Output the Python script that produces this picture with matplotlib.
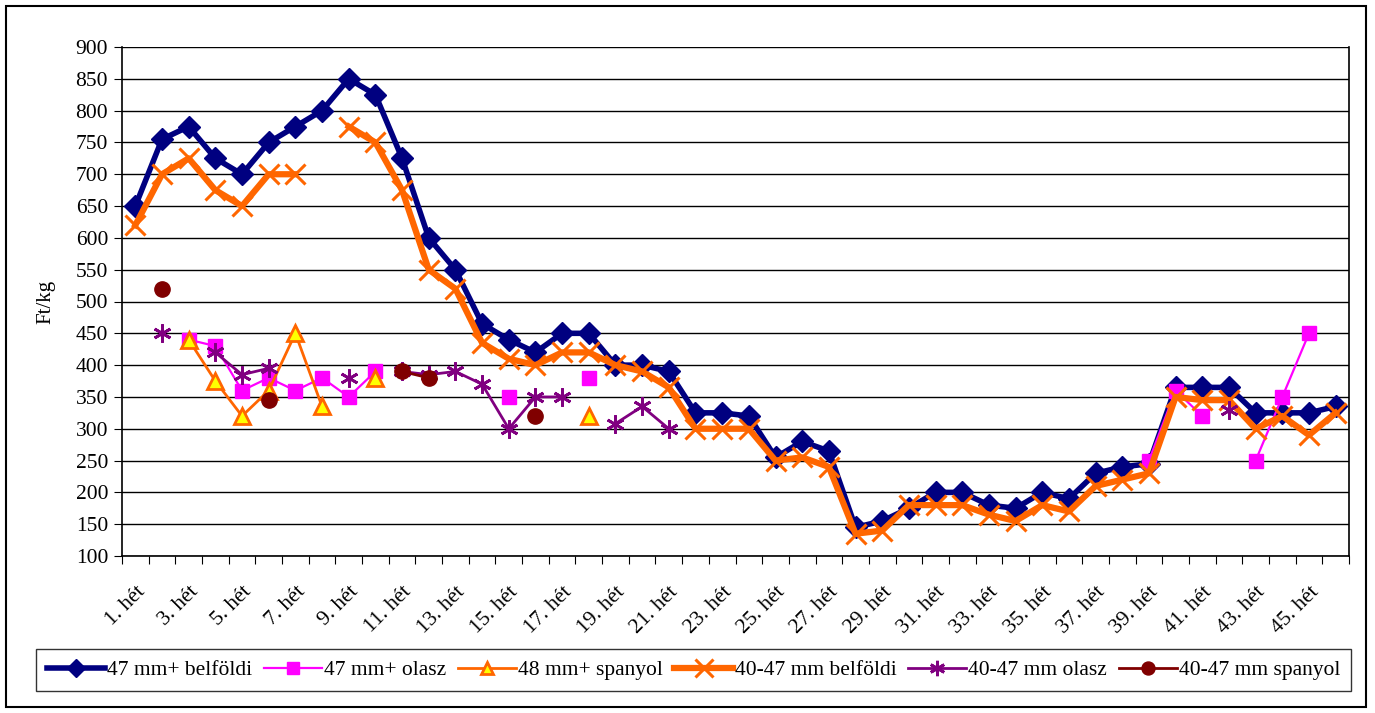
import numpy as np
import matplotlib
matplotlib.use("Agg")
import matplotlib.pyplot as plt
import matplotlib.transforms as mtransforms
from matplotlib.patches import Rectangle

nan = np.nan

weeks = [f"{i}. hét" for i in range(1, 47)]

# 47 mm+ belföldi
belf_47 = [650, 755, 775, 725, 700, 750, 775, 800, 850, 825,
           725, 600, 550, 465, 440, 420, 450, 450, 400, 400,
           390, 325, 325, 320, 255, 280, 265, 145, 155, 175,
           200, 200, 180, 175, 200, 190, 230, 240, 245, 365,
           365, 365, 325, 325, 325, 335]

# 47 mm+ olasz
olasz_47 = [nan, nan, 440, 430, 360, 380, 360, 380, 350, 390,
            nan, nan, nan, nan, 350, nan, nan, 380, nan, nan,
            nan, nan, nan, nan, nan, nan, nan, nan, nan, nan,
            nan, nan, nan, nan, nan, nan, nan, nan, 250, 360,
            320, nan, 250, 350, 450, nan]

# 48 mm+ spanyol
spany_48 = [nan, nan, 440, 375, 320, 360, 450, 335, nan, 380,
            nan, nan, nan, nan, nan, nan, nan, 320, nan, nan,
            nan, nan, nan, nan, nan, nan, nan, nan, nan, nan,
            nan, nan, nan, nan, nan, nan, nan, nan, nan, nan,
            nan, nan, nan, nan, nan, nan]

# 40-47 mm belföldi
belf_40 = [620, 700, 725, 675, 650, 700, 700, nan, 775, 750,
           675, 550, 520, 435, 410, 400, 420, 420, 400, 390,
           365, 300, 300, 300, 250, 255, 240, 135, 140, 180,
           180, 180, 165, 155, 180, 170, 210, 220, 230, 350,
           345, 345, 300, 320, 290, 325]

# 40-47 mm olasz
olasz_40 = [nan, 450, nan, 420, 385, 395, nan, nan, 380, nan,
            390, 385, 390, 370, 300, 350, 350, nan, 308, 335,
            300, nan, nan, nan, nan, nan, nan, nan, nan, nan,
            nan, nan, nan, nan, nan, nan, nan, nan, nan, nan,
            nan, 330, nan, nan, nan, nan]

# 40-47 mm spanyol
spany_40 = [nan, 520, nan, nan, nan, 345, nan, nan, nan, nan,
            390, 380, nan, nan, nan, 320, nan, nan, nan, nan,
            nan, nan, nan, nan, nan, nan, nan, nan, nan, nan,
            nan, nan, nan, nan, nan, nan, nan, nan, nan, nan,
            nan, nan, nan, nan, nan, nan]

plt.rcParams["font.family"] = ["Liberation Serif", "DejaVu Serif"]

W, H = 1375, 713
fig = plt.figure(figsize=(W / 100, H / 100), dpi=100)
ax = fig.add_axes([122 / W, 1 - 556 / H, (1349 - 122) / W, (556 - 47) / H])

x = np.arange(len(weeks))

ax.plot(x, belf_47, color="#000080", lw=4, marker="D", ms=11,
        label="47 mm+ belföldi", zorder=3)
ax.plot(x, olasz_47, color="#FF00FF", lw=1.6, marker="s", ms=10,
        label="47 mm+ olasz", zorder=4)
ax.plot(x, spany_48, color="#FF6600", lw=2, marker="^", ms=11,
        mfc="#FFFF00", mec="#FF6600", mew=2, label="48 mm+ spanyol", zorder=5)
ax.plot(x, belf_40, color="#FF6600", lw=4.5, marker="x", ms=15, mew=2.2,
        label="40-47 mm belföldi", zorder=6)
ax.plot(x, olasz_40, color="#800080", lw=2, marker=(6, 2, 0), ms=13, mew=2,
        label="40-47 mm olasz", zorder=7)
ax.plot(x, spany_40, color="#800000", lw=2, marker="o", ms=11,
        label="40-47 mm spanyol", zorder=8)

ax.set_xlim(-0.5, len(weeks) - 0.5)
ax.set_ylim(100, 900)
ax.set_yticks(np.arange(100, 901, 50))
ax.yaxis.grid(True, color="black", lw=1)
ax.set_axisbelow(True)

# category ticks between weeks, labels on every other week
ax.set_xticks(np.arange(-0.5, len(weeks), 1))
ax.set_xticklabels([])
ax.set_xticks(x[::2], minor=True)
ax.set_xticklabels(weeks[::2], minor=True, rotation=45, ha="right", va="top",
                   rotation_mode="anchor", fontsize=15.5)
shift = mtransforms.ScaledTranslation(-5 / 100, 0, fig.dpi_scale_trans)
for lab in ax.get_xticklabels(minor=True):
    lab.set_transform(lab.get_transform() + shift)
ax.tick_params(axis="x", which="major", length=6, direction="out", color="black")
ax.tick_params(axis="x", which="minor", length=0, pad=19)
ax.tick_params(axis="y", length=6, direction="out", labelsize=15.5, pad=4)

ax.spines["top"].set_visible(False)
for s in ax.spines.values():
    s.set_linewidth(1.2)
    s.set_color("black")

ax.set_ylabel("Ft/kg", fontsize=15)
ax.yaxis.set_label_coords(-0.054, 0.5)

leg = fig.legend(loc="center", mode="expand", ncol=6,
                 bbox_to_anchor=(25 / W, 1 - 690 / H, (1362 - 25) / W, 40 / H),
                 fontsize=15.5, frameon=True, fancybox=False, edgecolor="black",
                 handlelength=2.7, columnspacing=0.75, handletextpad=0.1,
                 borderpad=0.5, markerscale=0.85)
leg.get_frame().set_linewidth(1)

fig.patches.append(Rectangle((6 / W, 6 / H), (1366 - 6) / W, (707 - 6) / H,
                             transform=fig.transFigure, fill=False,
                             edgecolor="black", lw=1.5))

fig.savefig("out.png", dpi=100)
